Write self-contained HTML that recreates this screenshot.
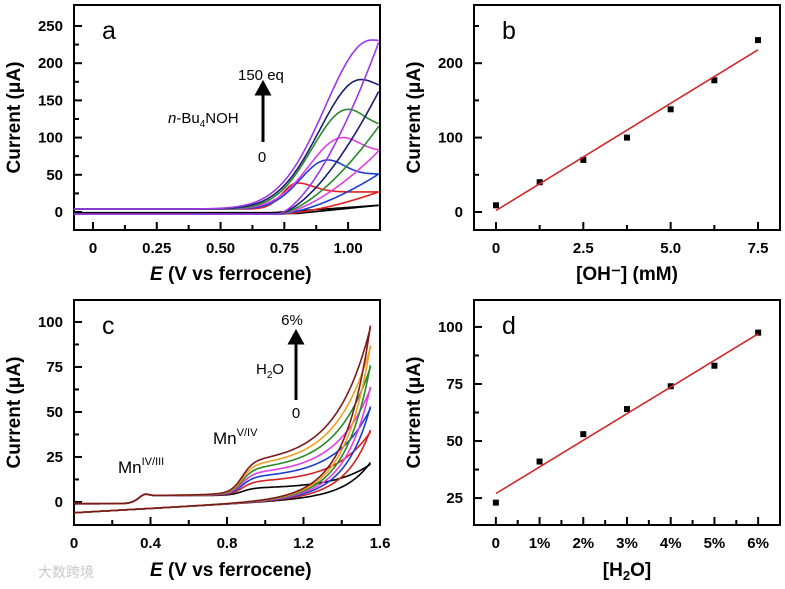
<!DOCTYPE html>
<html><head><meta charset="utf-8"><style>
body{margin:0;background:#fff;}
svg text{font-family:"Liberation Sans","Noto Sans CJK SC",sans-serif;}
</style></head><body>
<svg id="fig" width="785" height="584" viewBox="0 0 785 584" xmlns="http://www.w3.org/2000/svg"></svg>
<script>
// Panel a data (CV curves)
const aColors=['#000000','#e0201c','#1c3fd0','#e040e0','#2a8a2a','#1a1f70','#9b38e8'];
const aPeakE=[1.12,0.80,0.92,0.98,1.00,1.05,1.09];
const aPeakI=[10,39,70,100,138,178,231];
const aEndI=[9,27,51,82,115,162,228];
// Panel b data
const bX=[0,1.25,2.5,3.75,5,6.25,7.5];
const bY=[9,40,70,100,138,177,231];
const bFit=[2,218];
// Panel c data
const cColors=['#000000','#d42020','#1c3fd0','#e040e0','#2a8a2a','#f0a020','#7a1a1a'];
const cEndI=[22,40,53,64,76,87,98];
// Panel d data
const dX=[0,1,2,3,4,5,6];
const dY=[23,41,53,64,74,83,97.5];
const dFit=[27,97];
const dTicks=['0','1%','2%','3%','4%','5%','6%'];

const NS='http://www.w3.org/2000/svg';
const svg=document.getElementById('fig');
function el(tag,attrs,parent){const e=document.createElementNS(NS,tag);for(const k in attrs)e.setAttribute(k,attrs[k]);(parent||svg).appendChild(e);return e;}
function txt(s,attrs,name){const t=el('text',attrs);t.textContent=s;


return t;}

function panel(p){
  const g=el('g',{});
  
  
  const sx=v=>p.x0+(v-p.xmin)/(p.xmax-p.xmin)*(p.x1-p.x0);
  const sy=v=>p.y1-(v-p.ymin)/(p.ymax-p.ymin)*(p.y1-p.y0);
  p.sx=sx;p.sy=sy;p.g=g;
  p.xMajor.forEach((v,i)=>{const t=el('line',{x1:sx(v),x2:sx(v),y1:p.y1,y2:p.y1-8,stroke:'#000','stroke-width':2},g);
    
    
    txt(p.xLabels[i],{x:sx(v),y:p.y1+23,'text-anchor':'middle','font-size':15,'font-weight':'bold'},'x-tick-label');});
  p.xMinor.forEach(v=>{const t=el('line',{x1:sx(v),x2:sx(v),y1:p.y1,y2:p.y1-5,stroke:'#000','stroke-width':2},g);
    
    });
  p.yMajor.forEach(v=>{const t=el('line',{x1:p.x0,x2:p.x0+8,y1:sy(v),y2:sy(v),stroke:'#000','stroke-width':2},g);
    
    
    txt(String(v),{x:p.x0-11,y:sy(v)+5,'text-anchor':'end','font-size':15,'font-weight':'bold'},'y-tick-label');});
  p.yMinor.forEach(v=>{const t=el('line',{x1:p.x0,x2:p.x0+5,y1:sy(v),y2:sy(v),stroke:'#000','stroke-width':2},g);
    
    });
  const r=el('rect',{x:p.x0,y:p.y0,width:p.x1-p.x0,height:p.y1-p.y0,fill:'none',stroke:'#000','stroke-width':2},g);
  
  
  txt('Current (μA)',{x:0,y:0,'font-size':19,'font-weight':'bold','text-anchor':'middle',transform:`translate(${p.x0-54},${(p.y0+p.y1)/2}) rotate(-90)`},'y-axis-title');
  txt(p.letter,{x:p.x0+28,y:p.y0+34,'font-size':25},'panel-label');
  return p;
}
function path(pts,color,w,name,parent){const d='M'+pts.map(q=>q[0].toFixed(1)+','+q[1].toFixed(1)).join('L');
  const e=el('path',{d:d,fill:'none',stroke:color,'stroke-width':w,'stroke-linejoin':'round'},parent);
  
  
  return e;}

// Panel a
const A=panel({name:'panel-a',letter:'a',x0:74,x1:380,y0:5,y1:230,xmin:-0.0745,xmax:1.125,ymin:-24.2,ymax:278.2,
 xMajor:[0,0.25,0.5,0.75,1.0],xLabels:['0','0.25','0.50','0.75','1.00'],xMinor:[0.125,0.375,0.625,0.875,1.125],
 yMajor:[0,50,100,150,200,250],yMinor:[25,75,125,175,225]});
aColors.forEach((c,i)=>{
  const Ep=aPeakE[i],Ip=aPeakI[i],Ie=aEndI[i];const w=0.08+0.6*Math.max(Ep-0.8,0);
  const up=[],lo=[];
  for(let E=-0.075;E<=1.1201;E+=0.005){
    let I;
    if(E<=Ep) I=4+(Ip-4)*Math.exp(-Math.pow((E-Ep)/w,2));
    else I=Ie+(Ip-Ie)*Math.exp(-Math.pow((E-Ep)/0.09,2));
    if(i===0) I=-1+ (Ie+1)*Math.max(0,(E-0.7)/0.42);
    up.push([A.sx(E),A.sy(I)]);
    let L=-3; if(E>0.72) L+= (Ie+3)*Math.pow((E-0.72)/0.4,1.6);
    if(i===0) L=-2+ (Ie+2)*Math.max(0,(E-0.8)/0.32);
    lo.push([A.sx(E),A.sy(L)]);
  }
  path(up,c,1.6,'cv-a-forward-'+i);path(lo,c,1.6,'cv-a-return-'+i);
});
const e1=el('text',{x:150,y:280,'font-size':19,'font-weight':'bold'});e1.innerHTML='<tspan font-style="italic">E</tspan> (V vs ferrocene)';


txt('150 eq',{x:238,y:80,'font-size':15},'annotation-150eq');
const n1=el('text',{x:168,y:123,'font-size':15});n1.innerHTML='<tspan font-style="italic">n</tspan>-Bu<tspan font-size="10" dy="4">4</tspan><tspan dy="-4">NOH</tspan>';


txt('0',{x:262,y:162,'font-size':15,'text-anchor':'middle'},'annotation-zero-a');
const ar1=el('path',{d:'M263,142 L263,92 M257,94 L263,83 L269,94 Z',stroke:'#000','stroke-width':3,fill:'#000'});



// Panel b
const B=panel({name:'panel-b',letter:'b',x0:474,x1:780,y0:5,y1:230,xmin:-0.63,xmax:8.13,ymin:-24.2,ymax:278.2,
 xMajor:[0,2.5,5,7.5],xLabels:['0','2.5','5.0','7.5'],xMinor:[1.25,3.75,6.25],
 yMajor:[0,100,200],yMinor:[50,150,250]});
bX.forEach((x,i)=>{const r=el('rect',{x:B.sx(x)-3,y:B.sy(bY[i])-3,width:6,height:6,fill:'#000'});
 
 });
path([[B.sx(bX[0]),B.sy(bFit[0])],[B.sx(bX[bX.length-1]),B.sy(bFit[1])]],'#d02828',1.6,'fit-line-b');
txt('[OH⁻] (mM)',{x:627,y:280,'font-size':19,'font-weight':'bold','text-anchor':'middle'},'x-axis-title-b');

// Panel c
const C=panel({name:'panel-c',letter:'c',x0:74,x1:380,y0:300,y1:525,xmin:0,xmax:1.6,ymin:-12.8,ymax:112.2,
 xMajor:[0,0.4,0.8,1.2,1.6],xLabels:['0','0.4','0.8','1.2','1.6'],xMinor:[0.2,0.6,1.0,1.4],
 yMajor:[0,25,50,75,100],yMinor:[12.5,37.5,62.5,87.5]});
const sig=z=>1/(1+Math.exp(-z));
cColors.forEach((c,i)=>{
  const Ie=cEndI[i];const s=4+0.18*Ie;const up=[],lo=[];
  for(let E=0;E<=1.5501;E+=0.005){
    const bump=1.2*Math.exp(-Math.pow((E-0.37)/0.03,2));
    let U=-1+4.5*sig((E-0.33)/0.02)+bump+0.002*E+ (s-4)*sig((E-0.88)/0.03)+(Ie-s-0.5)*Math.exp((E-1.55)/0.18);
    up.push([C.sx(E),C.sy(U)]);
    let L=-6+6*E+(Ie-3.3)*Math.exp((E-1.55)/0.13);
    lo.push([C.sx(E),C.sy(L)]);
  }
  path(up,c,1.6,'cv-c-forward-'+i);path(lo,c,1.6,'cv-c-return-'+i);
});
const e2=el('text',{x:150,y:576,'font-size':19,'font-weight':'bold'});e2.innerHTML='<tspan font-style="italic">E</tspan> (V vs ferrocene)';


const m1=el('text',{x:118,y:473,'font-size':17});m1.innerHTML='Mn<tspan font-size="11" dy="-8">IV/III</tspan>';


const m2=el('text',{x:213,y:444,'font-size':17});m2.innerHTML='Mn<tspan font-size="11" dy="-8">V/IV</tspan>';


txt('6%',{x:292,y:325,'font-size':15,'text-anchor':'middle'},'annotation-6pct');
const h2o=el('text',{x:256,y:374,'font-size':15});h2o.innerHTML='H<tspan font-size="10" dy="4">2</tspan><tspan dy="-4">O</tspan>';


txt('0',{x:296,y:418,'font-size':15,'text-anchor':'middle'},'annotation-zero-c');
const ar2=el('path',{d:'M296,400 L296,341 M290,343 L296,332 L302,343 Z',stroke:'#000','stroke-width':3,fill:'#000'});



// Panel d
const D=panel({name:'panel-d',letter:'d',x0:474,x1:780,y0:300,y1:525,xmin:-0.5,xmax:6.5,ymin:13.2,ymax:111.8,
 xMajor:[0,1,2,3,4,5,6],xLabels:dTicks,xMinor:[0.5,1.5,2.5,3.5,4.5,5.5],
 yMajor:[25,50,75,100],yMinor:[37.5,62.5,87.5]});
dX.forEach((x,i)=>{const r=el('rect',{x:D.sx(x)-3,y:D.sy(dY[i])-3,width:6,height:6,fill:'#000'});
 
 });
path([[D.sx(dX[0]),D.sy(dFit[0])],[D.sx(dX[dX.length-1]),D.sy(dFit[1])]],'#d02828',1.6,'fit-line-d');
const hx=el('text',{x:627,y:576,'font-size':19,'font-weight':'bold','text-anchor':'middle'});hx.innerHTML='[H<tspan font-size="13" dy="4">2</tspan><tspan dy="-4">O]</tspan>';



txt('大数跨境',{x:38,y:577,'font-size':14,fill:'#c8c8c8'},'watermark');
</script>
</body></html>
